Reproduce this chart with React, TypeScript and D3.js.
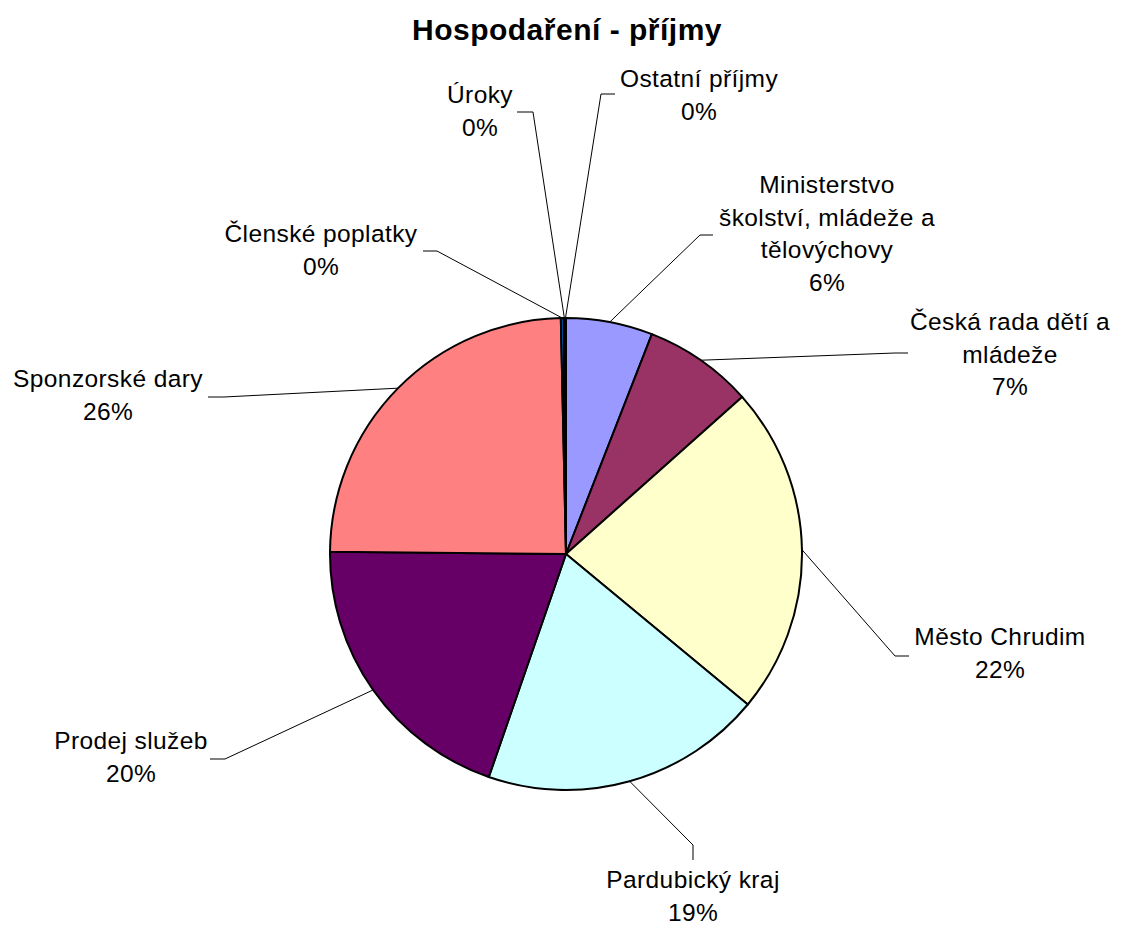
import React from "react";
import * as d3 from "d3";

const categories = [
  "Ministerstvo školství, mládeže a tělovýchovy",
  "Česká rada dětí a mládeže",
  "Město Chrudim",
  "Pardubický kraj",
  "Prodej služeb",
  "Sponzorské dary",
  "Členské poplatky",
  "Úroky",
  "Ostatní příjmy",
];
const values = [5.93, 7.48, 22.6, 19.3, 19.85, 24.5, 0.2, 0.08, 0.07];
const percentLabels = ["6%", "7%", "22%", "19%", "20%", "26%", "0%", "0%", "0%"];
const colors = ["#9999FF", "#993366", "#FFFFCC", "#CCFFFF", "#660066", "#FF8080", "#0066CC", "#CCCCFF", "#000080"];

// label layout: text lines, text center x, first baseline y, leader elbow and end
const labelLayout = [
  { lines: ["Ministerstvo", "školství, mládeže a", "tělovýchovy"], x: 827, y: 193, elbow: [700, 235], end: [713, 235] },
  { lines: ["Česká rada dětí a", "mládeže"], x: 1010, y: 330, elbow: [895, 353], end: [908, 353] },
  { lines: ["Město Chrudim"], x: 1000, y: 645, elbow: [895, 656], end: [909, 656] },
  { lines: ["Pardubický kraj"], x: 693, y: 888, elbow: [693, 845], end: [693, 860] },
  { lines: ["Prodej služeb"], x: 131, y: 749, elbow: [225, 759], end: [210, 759] },
  { lines: ["Sponzorské dary"], x: 108, y: 387, elbow: [224, 397], end: [208, 397] },
  { lines: ["Členské poplatky"], x: 321, y: 242, elbow: [437, 251], end: [423, 251] },
  { lines: ["Úroky"], x: 480, y: 103, elbow: [533, 112], end: [517, 112] },
  { lines: ["Ostatní příjmy"], x: 699, y: 87, elbow: [601, 94], end: [615, 94] },
];

const W = 1122;
const H = 927;
const cx = 566;
const cy = 554;
const R = 236;
const LINE_H = 32.5;

export default function App() {
  const pie = d3.pie<number>().sort(null).value((d) => d)(values);
  const arc = d3.arc<d3.PieArcDatum<number>>().innerRadius(0).outerRadius(R);
  const font = "'Liberation Sans', Arial, sans-serif";
  return (
    <svg width={W} height={H} style={{ position: "absolute", left: 0, top: 0, background: "#fff" }}>
      <text x={567} y={40} textAnchor="middle" fontFamily={font} fontWeight="bold" fontSize={30} letterSpacing={0.5} fill="#000">
        Hospodaření - příjmy
      </text>
      <g transform={`translate(${cx},${cy})`}>
        {pie.map((p, i) => (
          <path key={i} d={arc(p) || ""} fill={colors[i]} stroke="#000" strokeWidth={2} strokeLinejoin="round" />
        ))}
      </g>
      {pie.map((p, i) => {
        const L = labelLayout[i];
        const mid = (p.startAngle + p.endAngle) / 2;
        const sx = cx + R * Math.sin(mid);
        const sy = cy - R * Math.cos(mid);
        return (
          <polyline
            key={"l" + i}
            points={`${sx},${sy} ${L.elbow[0]},${L.elbow[1]} ${L.end[0]},${L.end[1]}`}
            fill="none"
            stroke="#000"
            strokeWidth={1}
          />
        );
      })}
      {labelLayout.map((L, i) => (
        <text key={"t" + i} textAnchor="middle" fontFamily={font} fontSize={24.5} letterSpacing={0.4} fill="#000">
          {[...L.lines, percentLabels[i]].map((s, j) => (
            <tspan key={j} x={L.x} y={L.y + j * LINE_H}>
              {s}
            </tspan>
          ))}
        </text>
      ))}
    </svg>
  );
}
